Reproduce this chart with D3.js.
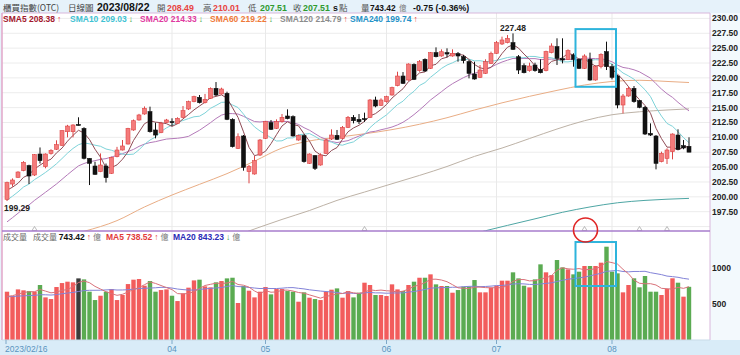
<!DOCTYPE html>
<html><head><meta charset="utf-8">
<script src="https://cdn.jsdelivr.net/npm/d3@7"></script>
<style>
html,body{margin:0;padding:0;background:#e6f2fa;}
svg{display:block;}
text{font-family:"Liberation Sans",Arial,sans-serif;}
.cjk{font-family:"Noto Sans CJK TC","Noto Sans CJK SC",sans-serif;}
</style></head><body>
<svg id="c" width="740" height="355"></svg>
<script>
// ---------------- DATA ----------------
const opens  = [199.58,202.15,203.28,204.40,205.24,203.67,207.20,205.07,207.30,208.00,208.66,210.95,210.95,212.08,211.50,206.47,205.18,204.23,205.18,203.95,
206.75,207.87,208.88,211.24,212.92,213.93,214.32,211.24,210.79,212.47,212.64,212.36,213.37,214.77,216.00,216.73,215.83,216.56,218.24,217.29,
217.40,213.03,208.15,210.23,204.23,203.84,207.03,209.83,212.47,211.52,212.64,213.59,213.48,209.55,210.28,205.63,206.92,205.35,207.31,209.72,
210.34,209.83,211.68,213.36,213.03,213.14,213.36,216.28,215.38,216.00,217.12,218.69,220.31,219.64,222.27,221.21,223.12,221.60,224.24,223.68,
224.24,223.68,224.07,223.57,222.72,220.65,220.09,220.76,222.44,224.13,225.70,225.92,225.92,223.56,222.05,221.21,222.16,221.43,221.21,224.24,
225.25,223.23,223.12,223.84,223.12,221.60,223.12,219.64,221.88,224.41,221.88,220.31,215.44,216.95,218.24,216.17,215.05,210.67,210.22,205.91,
206.47,207.59,210.39,208.60,208.49];
const highs  = [202.55,203.10,204.30,206.00,205.40,207.20,208.30,207.30,208.00,209.50,211.20,212.10,212.20,213.37,211.70,206.50,205.90,207.30,205.60,206.75,
208.40,209.55,211.60,213.00,213.95,215.20,215.16,212.47,212.60,213.10,213.20,213.37,215.27,216.17,217.00,217.12,217.30,218.40,219.30,218.35,
217.68,213.20,210.67,210.40,205.35,206.86,209.72,212.75,212.92,213.03,213.93,214.71,213.70,210.45,210.50,207.31,207.03,207.31,209.77,211.35,
211.24,211.91,213.59,213.75,213.92,214.15,216.45,216.84,216.56,217.00,218.52,221.04,220.98,222.44,222.44,223.00,223.28,224.35,225.13,224.80,
224.97,224.80,224.35,223.84,223.00,222.72,222.16,223.12,224.41,226.20,226.93,227.20,227.48,223.84,222.44,222.55,222.55,223.12,224.57,225.81,
226.65,226.65,224.80,224.13,223.28,223.96,224.24,222.10,224.13,226.09,222.33,220.48,217.29,218.52,218.63,216.28,215.27,212.35,210.39,207.59,
208.15,210.67,211.35,209.55,210.01];
const lows   = [199.29,201.70,203.20,204.30,202.15,203.50,205.60,204.80,207.10,207.87,208.55,210.00,210.00,212.00,206.30,201.98,203.70,204.15,202.40,203.85,
206.64,207.80,208.80,211.10,212.80,213.80,210.80,209.83,210.70,212.40,211.90,212.25,213.26,214.60,215.90,215.70,215.70,216.45,216.95,217.18,
212.90,208.30,208.04,204.40,202.27,203.73,206.86,209.72,211.24,211.40,212.47,213.03,210.12,209.44,205.75,205.52,204.51,205.24,207.20,209.55,
209.55,209.72,211.57,212.35,212.24,212.60,213.25,215.05,215.27,215.83,217.01,218.58,218.97,219.53,219.64,221.04,221.04,221.49,223.45,223.56,
223.45,223.56,222.72,222.44,219.92,219.70,219.98,220.65,222.33,224.02,225.53,225.81,224.69,220.65,220.76,221.04,221.04,220.76,221.10,224.13,
222.16,222.44,223.00,221.88,221.49,221.49,219.53,219.53,221.60,221.32,219.75,214.88,214.03,216.84,215.83,214.90,210.40,210.22,204.62,205.80,
205.52,206.30,207.87,208.00,207.51];
const closes = [202.38,202.83,204.17,205.80,203.50,207.09,206.08,207.20,207.80,208.77,211.12,211.90,212.08,212.08,206.47,205.63,203.78,205.35,203.22,206.64,
207.87,208.55,211.50,212.80,213.76,214.88,210.95,210.39,212.36,212.92,212.58,213.20,214.49,216.00,216.84,215.83,216.39,218.24,217.12,218.13,
213.03,208.43,210.10,204.96,205.07,206.08,209.55,212.64,211.35,212.64,213.37,213.14,210.23,210.34,205.91,207.20,204.79,207.03,209.55,210.39,
209.67,211.68,213.37,212.80,212.63,212.97,216.28,215.27,216.28,216.84,218.35,220.31,219.08,222.33,219.75,222.72,221.15,224.24,223.56,224.40,
224.01,224.13,223.68,222.89,220.76,219.81,221.32,222.72,224.13,225.92,226.37,226.65,224.80,221.32,220.87,221.99,221.21,220.87,224.41,225.36,
223.28,223.00,224.57,223.12,221.60,223.68,219.64,221.88,223.96,221.88,220.09,215.44,216.95,218.24,216.00,215.05,210.56,210.39,205.63,207.31,
207.87,210.56,207.98,208.21,207.51];
// trading volume (億)
const volumes = [675,615,707,694,684,675,768,596,573,740,795,814,805,860,846,675,559,619,675,712,
559,629,781,842,851,758,823,675,698,707,619,545,652,731,832,842,749,735,805,823,
860,869,518,754,689,596,675,740,638,712,712,684,675,536,666,592,573,559,675,703,
721,592,684,596,661,800,768,629,629,615,777,707,684,768,814,869,869,916,777,754,
754,661,698,745,745,837,666,666,731,758,828,828,944,860,758,735,846,1055,944,906,
1115,1013,985,916,953,1032,1032,1032,1078,1300,953,930,666,768,861,736,893,675,675,629,
712,861,800,606,743];
// estimated closes / volumes of the 19 sessions before the first visible day (feed the moving averages)
const priorCloses  = [188.5,189.4,190.3,191.0,191.8,192.5,193.4,194.0,194.8,195.5,196.2,197.0,197.6,198.5,199.6,200.3,200.9,200.8,201.2];
const priorVolumes = [560,590,620,600,640,580,610,650,600,570,620,640,590,610,580,560,600,590,620];
// long moving averages (day index, value)
const sma60Days    = [14,20,25,30,35,40,45,50,55,60,65,70,75,80,85,90,95,100,105,110,115,120,124];
const sma60Values  = [194.2,196.0,198.3,200.3,202.1,203.9,206.0,208.2,209.4,210.0,210.6,211.3,212.2,213.3,214.6,215.8,216.9,217.9,218.8,219.4,219.6,219.4,219.22];
const sma120Days   = [42,50,55,60,65,70,75,80,85,90,95,100,105,110,115,120,124];
const sma120Values = [193.6,196.2,197.7,199.4,200.8,202.2,203.6,205.1,206.8,208.2,209.8,211.4,212.8,213.8,214.3,214.6,214.79];
const sma240Days   = [84,87,91,96,101,106,111,116,120,124];
const sma240Values = [193.6,194.3,195.2,196.3,197.4,198.3,199.0,199.4,199.6,199.74];
// axis ticks
const priceTicks   = [197.5,200,202.5,205,207.5,210,212.5,215,217.5,220,222.5,225,227.5,230];
const priceGrid    = [195,197.5,200,202.5,205,207.5,210,212.5,215,217.5,220,222.5,225,227.5,230];
const volumeTicks  = [500,1000];
const monthDays    = [0,30,47,69,89,110];
const monthLabels  = ["2023/02/16","04","05","06","07","08"];
// header / legend texts
const headerLabels = ["櫃買指數(OTC)","日線圖","2023/08/22","開","208.49","高","210.01","低","207.51","收","207.51","s","點","量","743.42","億","-0.75 (-0.36%)"];
const smaNames     = ["SMA5","SMA10","SMA20","SMA60","SMA120","SMA240"];
const smaLast      = ["208.38","209.03","214.33","219.22","214.79","199.74"];
const smaUp        = [true,false,false,false,true,true];
const volNames     = ["成交量","MA5","MA20"];
const volLast      = ["743.42","738.52","843.23"];
const volUp        = [true,true,false];
// annotations
const markerDays   = [5,65,105,115,120];
const circledDay   = 105;
const boxDays      = [104,110];
const boxPrice     = [218.5,228.2];
const boxVolume    = [754,1365];

// ---------------- LAYOUT ----------------
const W=740,H=355, L=2, R=710, pTop=13, pBot=231, vBot=340;
const svg=d3.select("#c");
const n=closes.length, off=priorCloses.length;
const x=d3.scalePoint().domain(d3.range(n)).range([7,689]);
const yP=d3.scaleLinear().domain([197.5,230]).range([211.7,18.4]);
const yV=d3.scaleLinear().domain([0,1000]).range([340.3,268.3]);

const RED="#e8443f", GREEN="#2f9a2f";
// backgrounds
svg.append("rect").attr("x",0).attr("y",0).attr("width",W).attr("height",H).attr("fill","#e6f2fa");
svg.append("rect").attr("x",R).attr("y",pTop).attr("width",W-R).attr("height",vBot-pTop).attr("fill","#f3f9fd");
svg.append("rect").attr("x",L).attr("y",pTop).attr("width",R-L).attr("height",vBot-pTop).attr("fill","#fff");
svg.append("rect").attr("x",0).attr("y",vBot).attr("width",W).attr("height",H-vBot).attr("fill","#d9ecf8");

const defs=svg.append("defs");
defs.append("clipPath").attr("id","cp").append("rect").attr("x",L).attr("y",pTop).attr("width",R-L).attr("height",pBot-pTop);
defs.append("clipPath").attr("id","cv").append("rect").attr("x",L).attr("y",pBot).attr("width",R-L).attr("height",vBot-pBot);

// grid
const grid=svg.append("g");
grid.selectAll("line.h").data(priceGrid).join("line")
  .attr("x1",L).attr("x2",R).attr("y1",d=>yP(d)).attr("y2",d=>yP(d))
  .attr("stroke","#ececec").attr("stroke-width",1);
grid.selectAll("line.v").data(monthDays.slice(1)).join("line")
  .attr("x1",d=>x(d)).attr("x2",d=>x(d)).attr("y1",pTop).attr("y2",vBot)
  .attr("stroke","#e9e9e9").attr("stroke-width",1);

// ---------------- PRICE PANEL ----------------
const gp=svg.append("g").attr("clip-path","url(#cp)");
const allC=priorCloses.concat(closes);
const sma=p=>d3.range(n).map(i=>d3.mean(allC.slice(i+off-p+1,i+off+1)));
const lineI=d3.line().x((d,i)=>x(i)).y(d=>yP(d));
const lineS=d3.line().x(d=>x(d[0])).y(d=>yP(d[1])).curve(d3.curveMonotoneX);
const zip=(a,b)=>a.map((d,i)=>[d,b[i]]);
const maStyles=[
  {data:zip(sma240Days,sma240Values),col:"#4ea6a4",s:true},
  {data:zip(sma120Days,sma120Values),col:"#bdb2a6",s:true},
  {data:zip(sma60Days,sma60Values),col:"#e9ad85",s:true},
  {data:sma(20),col:"#b47ab9"},
  {data:sma(10),col:"#7ed3d9"},
  {data:sma(5),col:"#8f4b55"}
];
maStyles.forEach(m=>{
  gp.append("path").attr("d",m.s?lineS(m.data):lineI(m.data)).attr("fill","none")
    .attr("stroke",m.col).attr("stroke-width",1);
});

const candles=gp.append("g");
const bw=4;
d3.range(n).forEach(i=>{
  const up=closes[i]>opens[i], flat=closes[i]===opens[i];
  const fill=up?"#f47b7b":"#111", stroke=up?"#dd4545":"#111";
  const cx=x(i);
  candles.append("line").attr("x1",cx).attr("x2",cx).attr("y1",yP(highs[i])).attr("y2",yP(lows[i]))
    .attr("stroke",stroke).attr("stroke-width",1);
  const y0=yP(Math.max(opens[i],closes[i])), y1=yP(Math.min(opens[i],closes[i]));
  candles.append("rect").attr("x",cx-bw/2).attr("y",flat?y0-0.5:y0).attr("width",bw)
    .attr("height",Math.max(1,y1-y0)).attr("fill",fill).attr("stroke",stroke).attr("stroke-width",0.6);
});

// markers (small hollow triangles along the bottom)
gp.selectAll("path.mk").data(markerDays).join("path")
  .attr("d",d=>`M${x(d)-2.5},230.5 L${x(d)},226.5 L${x(d)+2.5},230.5 Z`)
  .attr("fill","none").attr("stroke","#a9a9a9").attr("stroke-width",0.8);

// high / low labels
const iMax=d3.maxIndex(highs), iMin=d3.minIndex(lows);
svg.append("text").attr("x",x(iMax)).attr("y",yP(highs[iMax])-2).attr("text-anchor","middle")
  .attr("font-size",8.5).attr("font-weight","bold").attr("fill","#222").text(highs[iMax].toFixed(2));
svg.append("text").attr("x",4).attr("y",yP(lows[iMin])+9.5)
  .attr("font-size",8.5).attr("font-weight","bold").attr("fill","#222").text(lows[iMin].toFixed(2));

// price axis labels
svg.selectAll("text.pt").data(priceTicks).join("text")
  .attr("x",712).attr("y",d=>yP(d)+3).attr("font-size",8.5).attr("font-weight","bold").attr("fill","#222")
  .text(d=>d.toFixed(2));

// ---------------- VOLUME PANEL ----------------
const gv=svg.append("g").attr("clip-path","url(#cv)");
const vw=4.4;
d3.range(n).forEach(i=>{
  const prev=allC[i+off-1];
  const col=closes[i]>prev?"#f25c5c":closes[i]<prev?"#5bab52":"#3c3c3c";
  gv.append("rect").attr("x",x(i)-vw/2).attr("y",yV(volumes[i])).attr("width",vw)
    .attr("height",yV(0)-yV(volumes[i])).attr("fill",col);
});
const allV=priorVolumes.concat(volumes);
const vma=p=>d3.range(n).map(i=>d3.mean(allV.slice(i+off-p+1,i+off+1)));
const lineV=d3.line().x((d,i)=>x(i)).y(d=>yV(d));
gv.append("path").attr("d",lineV(vma(20))).attr("fill","none").attr("stroke","#8383d8").attr("stroke-width",1);
gv.append("path").attr("d",lineV(vma(5))).attr("fill","none").attr("stroke","#d9727a").attr("stroke-width",1);
svg.selectAll("text.vt").data(volumeTicks).join("text")
  .attr("x",712).attr("y",d=>yV(d)+3).attr("font-size",8.5).attr("font-weight","bold").attr("fill","#222")
  .text(d=>d);

// highlight boxes
const bx0=x(boxDays[0])-3.5, bx1=x(boxDays[1])+4;
svg.append("rect").attr("x",bx0).attr("y",yP(boxPrice[1])).attr("width",bx1-bx0)
  .attr("height",yP(boxPrice[0])-yP(boxPrice[1])).attr("fill","none").attr("stroke","#2eb4dc").attr("stroke-width",2);
svg.append("rect").attr("x",bx0).attr("y",yV(boxVolume[1])).attr("width",bx1-bx0)
  .attr("height",yV(boxVolume[0])-yV(boxVolume[1])).attr("fill","none").attr("stroke","#2eb4dc").attr("stroke-width",2);

// frames
svg.append("line").attr("x1",L).attr("x2",R).attr("y1",pTop).attr("y2",pTop).attr("stroke","#d9b8dc").attr("stroke-width",1);
svg.append("line").attr("x1",L).attr("x2",L).attr("y1",pTop).attr("y2",vBot).attr("stroke","#e2a6c8").attr("stroke-width",1.5);
svg.append("line").attr("x1",R).attr("x2",R).attr("y1",pTop).attr("y2",vBot).attr("stroke","#d9b8dc").attr("stroke-width",1);
svg.append("line").attr("x1",L).attr("x2",R).attr("y1",pBot).attr("y2",pBot).attr("stroke","#a77ccc").attr("stroke-width",1.5);
svg.append("line").attr("x1",L).attr("x2",R).attr("y1",vBot).attr("y2",vBot).attr("stroke","#c9dbe8").attr("stroke-width",1);

// red circle
svg.append("circle").attr("cx",x(circledDay)+1).attr("cy",230).attr("r",12)
  .attr("fill","none").attr("stroke","#e02626").attr("stroke-width",1.6);

// x axis
svg.selectAll("line.xt").data(monthDays).join("line")
  .attr("x1",d=>x(d)-(d===0?1:0)).attr("x2",d=>x(d)-(d===0?1:0)).attr("y1",vBot).attr("y2",vBot+4)
  .attr("stroke","#7da8c8").attr("stroke-width",1);
svg.selectAll("text.xl").data(monthDays).join("text")
  .attr("x",(d,i)=>i===0?5:x(d)).attr("y",352).attr("text-anchor",(d,i)=>i===0?"start":"middle")
  .attr("font-size",8.5).attr("fill","#5a94bf").text((d,i)=>monthLabels[i]);

// ---------------- HEADER TEXTS ----------------
const hx=[3,68,97,157,167,203,213,248,260,293,303,333,339,361,370,399,413];
const NUM=8.8;
const hstyle=[
 {c:"#444",cjk:1,s:8.5},{c:"#444",cjk:1,s:8.5},{c:"#111",b:1,s:10.5},{c:"#555",cjk:1,s:8.5},{c:RED,b:1,s:NUM},
 {c:"#555",cjk:1,s:8.5},{c:RED,b:1,s:NUM},{c:"#555",cjk:1,s:8.5},{c:GREEN,b:1,s:NUM},{c:"#555",cjk:1,s:8.5},{c:GREEN,b:1,s:NUM},
 {c:"#111",b:1,s:NUM},{c:"#555",cjk:1,s:8.5},{c:"#555",cjk:1,s:8.5},{c:"#111",b:1,s:8.4},{c:"#777",cjk:1,s:7.5},{c:"#111",b:1,s:NUM}
];
headerLabels.forEach((t,i)=>{
  const st=hstyle[i];
  svg.append("text").attr("class",st.cjk?"cjk":null).attr("x",hx[i]).attr("y",10.5)
    .attr("font-size",st.s).attr("font-weight",st.b?"bold":"normal").attr("fill",st.c).text(t);
});

// SMA legend
const smaX=[3,70,140,210,280,350];
const smaCol=["#a3182d","#3fc2d3","#df3aa0","#ef7a3a","#8c8c8c","#2592c8"];
smaNames.forEach((nm,i)=>{
  const t=svg.append("text").attr("x",smaX[i]).attr("y",21.5).attr("font-size",8.5).attr("font-weight","bold");
  t.append("tspan").attr("fill",smaCol[i]).text(nm+" "+smaLast[i]);
  t.append("tspan").attr("dx",2).attr("fill",smaUp[i]?RED:GREEN).text(smaUp[i]?"↑":"↓");
});

// volume legend
svg.append("text").attr("class","cjk").attr("x",3).attr("y",240).attr("font-size",8).attr("fill","#666").text(volNames[0]);
const vlX=[33,106,173], vlCol=["#111","#e23b3b","#2a2ab6"];
volNames.forEach((nm,i)=>{
  const t=svg.append("text").attr("x",vlX[i]).attr("y",240).attr("font-size",8.5).attr("font-weight","bold");
  if(i===0){ t.append("tspan").attr("class","cjk").attr("font-weight","normal").attr("font-size",8).attr("fill","#666").text(nm+" "); t.append("tspan").attr("fill",vlCol[i]).text(volLast[i]); }
  else t.append("tspan").attr("fill",vlCol[i]).text(nm+" "+volLast[i]);
  t.append("tspan").attr("dx",2).attr("fill",volUp[i]?RED:GREEN).text(volUp[i]?"↑":"↓");
  t.append("tspan").attr("class","cjk").attr("dx",2).attr("font-weight","normal").attr("font-size",8).attr("fill","#777").text("億");
});
</script>
</body></html>
